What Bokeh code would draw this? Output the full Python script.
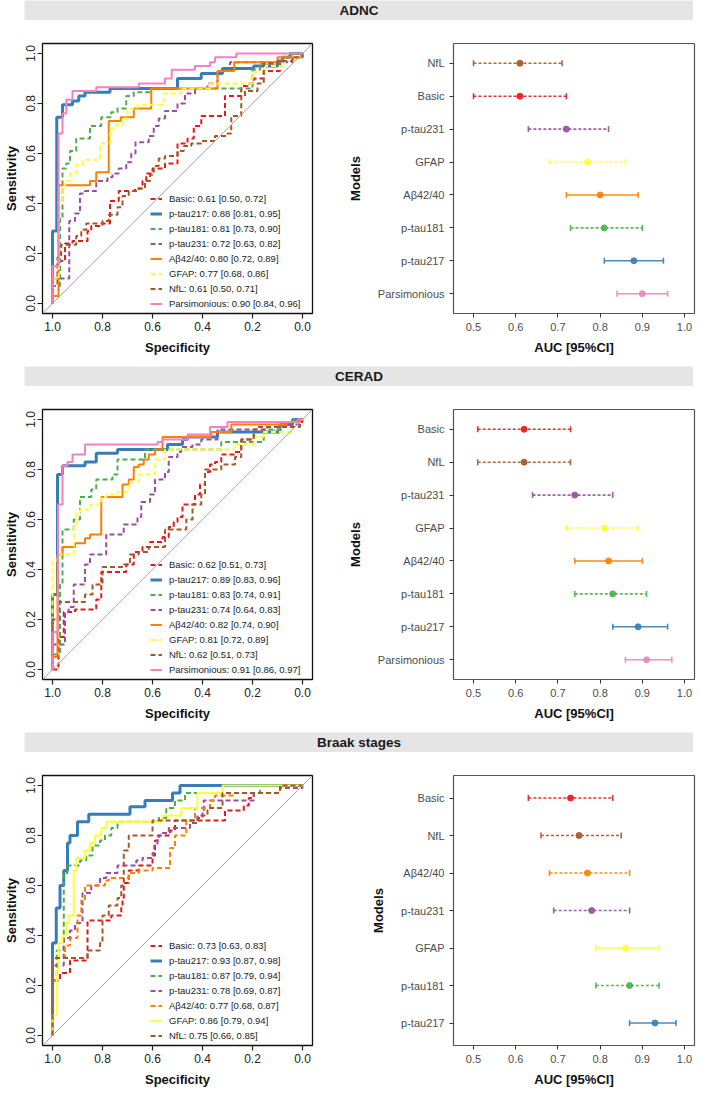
from math import pi
from bokeh.plotting import figure
from bokeh.layouts import column, row
from bokeh.models import (Range1d, FactorRange, FixedTicker, PrintfTickFormatter,
                          Legend, LegendItem, Slope)
from bokeh.core.properties import value
from bokeh.embed import file_html
from bokeh.resources import INLINE

FONT = "Liberation Sans"

# ---------------- data ----------------
MODELS = ["Basic", "p-tau217", "p-tau181", "p-tau231", "Aβ42/40", "GFAP", "NfL", "Parsimonious"]
COLORS = ["#E41A1C", "#377EB8", "#4DAF4A", "#984EA3", "#FF7F00", "#FFFF33", "#A65628", "#F781BF"]

# AUC [95% CI] (legend order)
ADNC_AUC = [0.61, 0.88, 0.81, 0.72, 0.80, 0.77, 0.61, 0.90]
ADNC_LO = [0.50, 0.81, 0.73, 0.63, 0.72, 0.68, 0.50, 0.84]
ADNC_HI = [0.72, 0.95, 0.90, 0.82, 0.89, 0.86, 0.71, 0.96]
ADNC_FOREST_ORDER = ["NfL", "Basic", "p-tau231", "GFAP", "Aβ42/40", "p-tau181", "p-tau217", "Parsimonious"]

CERAD_AUC = [0.62, 0.89, 0.83, 0.74, 0.82, 0.81, 0.62, 0.91]
CERAD_LO = [0.51, 0.83, 0.74, 0.64, 0.74, 0.72, 0.51, 0.86]
CERAD_HI = [0.73, 0.96, 0.91, 0.83, 0.90, 0.89, 0.73, 0.97]
CERAD_FOREST_ORDER = ["Basic", "NfL", "p-tau231", "GFAP", "Aβ42/40", "p-tau181", "p-tau217", "Parsimonious"]

BRAAK_MODELS = ["Basic", "p-tau217", "p-tau181", "p-tau231", "Aβ42/40", "GFAP", "NfL"]
BRAAK_AUC = [0.73, 0.93, 0.87, 0.78, 0.77, 0.86, 0.75]
BRAAK_LO = [0.63, 0.87, 0.79, 0.69, 0.68, 0.79, 0.66]
BRAAK_HI = [0.83, 0.98, 0.94, 0.87, 0.87, 0.94, 0.85]
BRAAK_FOREST_ORDER = ["Basic", "NfL", "Aβ42/40", "p-tau231", "GFAP", "p-tau181", "p-tau217"]

# ROC step corners (specificity, sensitivity)
ADNC_BASIC = [(1, 0), (1, 0.08), (0.98, 0.17), (0.95, 0.24), (0.92, 0.25), (0.86, 0.29), (0.845, 0.31),
              (0.80, 0.32), (0.77, 0.41), (0.735, 0.45), (0.67, 0.46), (0.64, 0.49), (0.625, 0.52),
              (0.60, 0.54), (0.55, 0.56), (0.50, 0.64), (0.46, 0.66), (0.435, 0.71), (0.405, 0.75),
              (0.31, 0.83), (0.245, 0.87), (0.22, 0.88), (0.195, 0.90), (0.155, 0.93), (0.09, 0.97),
              (0.04, 0.985), (0, 1.0)]
ADNC_PT217 = [(1, 0), (1, 0.29), (0.983, 0.745), (0.96, 0.795), (0.92, 0.81), (0.895, 0.83), (0.87, 0.845),
              (0.77, 0.86), (0.50, 0.90), (0.405, 0.92), (0.32, 0.94), (0.195, 0.95), (0.10, 0.97),
              (0.08, 0.985), (0.05, 1.0), (0, 1.0)]
ADNC_PT181 = [(1, 0), (1, 0.07), (0.97, 0.34), (0.96, 0.54), (0.945, 0.56), (0.93, 0.61), (0.905, 0.66),
              (0.85, 0.71), (0.805, 0.745), (0.765, 0.765), (0.74, 0.78), (0.705, 0.83), (0.675, 0.845),
              (0.61, 0.86), (0.20, 0.935), (0.17, 0.96), (0.08, 0.985), (0.04, 1.0), (0, 1.0)]
ADNC_PT231 = [(1, 0), (1, 0.10), (0.933, 0.33), (0.91, 0.36), (0.89, 0.44), (0.87, 0.45), (0.825, 0.49),
              (0.78, 0.505), (0.76, 0.52), (0.735, 0.54), (0.705, 0.565), (0.685, 0.60), (0.668, 0.645),
              (0.615, 0.67), (0.595, 0.71), (0.575, 0.74), (0.55, 0.77), (0.50, 0.80), (0.47, 0.84),
              (0.43, 0.86), (0.38, 0.88), (0.34, 0.93), (0.29, 0.965), (0.04, 0.985), (0, 1.0)]
ADNC_ABETA = [(1, 0), (1, 0.03), (0.976, 0.473), (0.85, 0.49), (0.825, 0.525), (0.775, 0.73), (0.727, 0.745),
              (0.675, 0.78), (0.605, 0.86), (0.34, 0.93), (0.273, 0.965), (0.10, 0.985), (0, 1.0)]
ADNC_GFAP = [(1, 0), (1, 0.10), (0.975, 0.41), (0.96, 0.47), (0.95, 0.49), (0.93, 0.52), (0.905, 0.555),
             (0.88, 0.575), (0.81, 0.64), (0.77, 0.70), (0.745, 0.715), (0.72, 0.74), (0.70, 0.78),
             (0.66, 0.795), (0.555, 0.84), (0.485, 0.86), (0.37, 0.88), (0.20, 0.925), (0.15, 0.95),
             (0.07, 0.97), (0.03, 0.985), (0, 1.0)]
ADNC_NFL = [(1, 0), (1, 0.15), (0.98, 0.185), (0.965, 0.235), (0.905, 0.27), (0.885, 0.295), (0.865, 0.32),
            (0.80, 0.33), (0.775, 0.355), (0.74, 0.385), (0.72, 0.43), (0.695, 0.45), (0.655, 0.46),
            (0.63, 0.49), (0.61, 0.515), (0.595, 0.55), (0.575, 0.58), (0.55, 0.59), (0.50, 0.61),
            (0.475, 0.63), (0.445, 0.64), (0.405, 0.65), (0.35, 0.67), (0.30, 0.68), (0.285, 0.75),
            (0.245, 0.83), (0.23, 0.85), (0.18, 0.88), (0.155, 0.96), (0.10, 0.97), (0.04, 0.985), (0, 1.0)]
ADNC_PARS = [(1, 0), (1, 0.15), (0.976, 0.68), (0.96, 0.76), (0.945, 0.815), (0.92, 0.85), (0.825, 0.865),
             (0.655, 0.88), (0.55, 0.90), (0.523, 0.935), (0.43, 0.95), (0.37, 0.965), (0.35, 0.985),
             (0.265, 1.0), (0, 1.0)]

CERAD_BASIC = [(1, 0), (0.976, 0.13), (0.955, 0.23), (0.91, 0.24), (0.825, 0.28), (0.805, 0.39), (0.705, 0.42),
               (0.675, 0.47), (0.64, 0.49), (0.61, 0.51), (0.56, 0.53), (0.535, 0.57), (0.515, 0.59),
               (0.50, 0.61), (0.48, 0.66), (0.43, 0.70), (0.41, 0.74), (0.39, 0.79), (0.37, 0.82),
               (0.35, 0.83), (0.325, 0.86), (0.27, 0.87), (0.245, 0.92), (0.195, 0.95), (0.09, 0.97),
               (0.04, 0.99), (0, 1.0)]
CERAD_PT217 = [(1, 0), (1, 0.30), (0.98, 0.78), (0.96, 0.815), (0.87, 0.83), (0.825, 0.865), (0.74, 0.88),
               (0.54, 0.90), (0.48, 0.92), (0.46, 0.93), (0.34, 0.95), (0.09, 0.98), (0.04, 1.0), (0, 1.0)]
CERAD_PT181 = [(1, 0), (1, 0.06), (0.97, 0.34), (0.96, 0.56), (0.915, 0.60), (0.89, 0.69), (0.845, 0.72),
               (0.825, 0.76), (0.76, 0.78), (0.74, 0.84), (0.63, 0.88), (0.325, 0.91), (0.155, 0.96),
               (0.09, 0.98), (0.04, 1.0), (0, 1.0)]
CERAD_PT231 = [(1, 0), (1, 0.10), (0.95, 0.23), (0.935, 0.25), (0.915, 0.34), (0.87, 0.42), (0.85, 0.46),
               (0.785, 0.54), (0.715, 0.58), (0.66, 0.61), (0.645, 0.67), (0.61, 0.70), (0.59, 0.76),
               (0.55, 0.79), (0.535, 0.85), (0.50, 0.87), (0.485, 0.89), (0.44, 0.90), (0.405, 0.92),
               (0.34, 0.96), (0.18, 0.97), (0.06, 0.98), (0.01, 1.0), (0, 1.0)]
CERAD_ABETA = [(1, 0), (1, 0.05), (0.98, 0.46), (0.96, 0.49), (0.91, 0.505), (0.87, 0.525), (0.85, 0.54),
               (0.805, 0.69), (0.72, 0.74), (0.695, 0.76), (0.675, 0.81), (0.655, 0.82), (0.635, 0.84),
               (0.615, 0.86), (0.59, 0.88), (0.56, 0.93), (0.365, 0.95), (0.285, 0.98), (0.063, 0.99),
               (0.01, 1.0), (0, 1.0)]
CERAD_GFAP = [(1, 0), (1, 0.43), (0.98, 0.46), (0.915, 0.57), (0.905, 0.63), (0.89, 0.64), (0.85, 0.66),
              (0.805, 0.69), (0.785, 0.70), (0.74, 0.71), (0.695, 0.75), (0.655, 0.78), (0.59, 0.84),
              (0.55, 0.88), (0.275, 0.90), (0.195, 0.93), (0.155, 0.95), (0.04, 0.97), (0.01, 1.0), (0, 1.0)]
CERAD_NFL = [(1, 0), (1, 0.20), (0.975, 0.27), (0.87, 0.30), (0.84, 0.34), (0.80, 0.41), (0.715, 0.42),
             (0.69, 0.46), (0.655, 0.47), (0.615, 0.49), (0.55, 0.56), (0.465, 0.60), (0.44, 0.66),
             (0.405, 0.70), (0.39, 0.80), (0.325, 0.82), (0.27, 0.85), (0.245, 0.92), (0.195, 0.96),
             (0.14, 0.97), (0.01, 1.0), (0, 1.0)]
CERAD_PARS = [(1, 0), (1, 0.15), (0.978, 0.66), (0.96, 0.815), (0.94, 0.83), (0.92, 0.86), (0.87, 0.90),
              (0.58, 0.91), (0.56, 0.92), (0.46, 0.94), (0.37, 0.97), (0.30, 0.99), (0.02, 1.0), (0, 1.0)]

BRAAK_BASIC = [(1, 0), (1, 0.22), (0.97, 0.25), (0.93, 0.30), (0.86, 0.46), (0.765, 0.48), (0.725, 0.52),
               (0.72, 0.55), (0.715, 0.61), (0.695, 0.66), (0.655, 0.68), (0.60, 0.72), (0.59, 0.78),
               (0.575, 0.80), (0.53, 0.82), (0.51, 0.86), (0.31, 0.90), (0.235, 0.92), (0.215, 0.95),
               (0.195, 0.97), (0.09, 1.0), (0, 1.0)]
BRAAK_PT217 = [(1, 0), (1, 0.37), (0.985, 0.51), (0.97, 0.60), (0.955, 0.66), (0.94, 0.77), (0.93, 0.80),
               (0.90, 0.855), (0.855, 0.885), (0.69, 0.915), (0.63, 0.94), (0.52, 0.97), (0.49, 1.0), (0, 1.0)]
BRAAK_PT181 = [(1, 0), (1, 0.22), (0.983, 0.34), (0.955, 0.65), (0.94, 0.68), (0.89, 0.70), (0.865, 0.72),
               (0.84, 0.76), (0.81, 0.78), (0.79, 0.80), (0.765, 0.83), (0.74, 0.855), (0.575, 0.87),
               (0.545, 0.91), (0.51, 0.94), (0.47, 0.97), (0.17, 1.0), (0, 1.0)]
BRAAK_PT231 = [(1, 0), (1, 0.28), (0.955, 0.39), (0.93, 0.42), (0.91, 0.45), (0.88, 0.57), (0.845, 0.60),
               (0.81, 0.63), (0.785, 0.65), (0.74, 0.68), (0.665, 0.70), (0.64, 0.71), (0.60, 0.73),
               (0.593, 0.76), (0.58, 0.80), (0.56, 0.81), (0.535, 0.83), (0.45, 0.85), (0.42, 0.88),
               (0.40, 0.90), (0.395, 0.94), (0.195, 0.97), (0.09, 0.99), (0, 1.0)]
BRAAK_ABETA = [(1, 0), (1, 0.31), (0.95, 0.36), (0.93, 0.39), (0.90, 0.48), (0.885, 0.54), (0.87, 0.60),
               (0.79, 0.62), (0.775, 0.63), (0.695, 0.65), (0.655, 0.66), (0.60, 0.67), (0.53, 0.75),
               (0.51, 0.80), (0.465, 0.86), (0.43, 0.91), (0.37, 0.94), (0.35, 0.96), (0.275, 0.97),
               (0.09, 1.0), (0, 1.0)]
BRAAK_GFAP = [(1, 0), (1, 0.08), (0.983, 0.26), (0.975, 0.37), (0.96, 0.40), (0.945, 0.45), (0.935, 0.48),
              (0.915, 0.66), (0.905, 0.71), (0.87, 0.74), (0.85, 0.77), (0.83, 0.80), (0.805, 0.83),
              (0.785, 0.855), (0.56, 0.88), (0.485, 0.91), (0.42, 0.97), (0.32, 1.0), (0, 1.0)]
BRAAK_NFL = [(1, 0), (1, 0.31), (0.86, 0.34), (0.81, 0.37), (0.80, 0.48), (0.775, 0.52), (0.74, 0.55),
             (0.725, 0.60), (0.715, 0.74), (0.695, 0.80), (0.60, 0.86), (0.42, 0.87), (0.40, 0.88),
             (0.38, 0.91), (0.32, 0.97), (0.09, 1.0), (0, 1.0)]

# ---------------- styling helpers ----------------
COLOR_OF = dict(zip(MODELS, COLORS))
FRAME = 270


def header(title):
    p = figure(frame_width=669, frame_height=20, min_border_left=24, min_border_right=0,
               min_border_top=0, min_border_bottom=0, x_range=Range1d(0, 1), y_range=Range1d(0, 1),
               x_axis_location=None, y_axis_location=None, output_backend="svg",
               toolbar_location=None, tools="")
    p.background_fill_color = "#E5E5E5"
    p.border_fill_color = "white"
    p.outline_line_color = None
    p.grid.visible = False
    p.text(x=[0.5], y=[0.5], text=[title], text_align="center", text_baseline="middle",
           text_font=value(FONT), text_font_style="bold", text_font_size="13.5px", text_color="#1A1A1A")
    return p


def roc_plot(models, curves, auc, lo, hi, solid, bottom):
    p = figure(frame_width=FRAME, frame_height=FRAME, min_border_left=39, min_border_right=11,
               min_border_top=23, min_border_bottom=bottom,
               x_range=Range1d(1.04, -0.04), y_range=Range1d(-0.04, 1.04),
               output_backend="svg", toolbar_location=None, tools="")
    p.grid.visible = False
    p.outline_line_color = "#111111"
    p.outline_line_width = 1.3
    p.border_fill_color = "white"
    p.add_layout(Slope(gradient=-1, y_intercept=1, line_color="#A8A8A8", line_width=1))
    items = []
    for m, pts, a, l, h in zip(models, curves, auc, lo, hi):
        xs = [q[0] for q in pts]
        ys = [q[1] for q in pts]
        r = p.step(xs, ys, mode="after", line_color=COLOR_OF[m],
                   line_width=3 if m == "p-tau217" else 2,
                   line_dash="solid" if m in solid else "5 3")
        items.append(LegendItem(label=value(f"{m}: {a:.2f} [{l:.2f}, {h:.2f}]"), renderers=[r]))
    leg = Legend(items=items, location=(108, 2), glyph_width=12, glyph_height=15, label_height=15,
                 spacing=0, padding=3, margin=0, label_standoff=7,
                 label_text_font=FONT, label_text_font_size="9.5px", label_text_color="#222222",
                 background_fill_alpha=0, border_line_color=None)
    p.add_layout(leg)
    for ax in (p.xaxis, p.yaxis):
        ax.ticker = FixedTicker(ticks=[0.0, 0.2, 0.4, 0.6, 0.8, 1.0])
        ax.formatter = PrintfTickFormatter(format="%.1f")
        ax.axis_line_color = None
        ax.major_tick_out = 5
        ax.major_tick_in = 0
        ax.minor_tick_out = 0
        ax.minor_tick_in = 0
        ax.major_tick_line_color = "#222222"
        ax.major_tick_line_width = 1.2
        ax.major_label_text_font = FONT
        ax.major_label_text_font_size = "12px"
        ax.major_label_text_color = "#222222"
        ax.major_label_standoff = 3
        ax.axis_label_text_font = FONT
        ax.axis_label_text_font_style = "bold"
        ax.axis_label_text_font_size = "13px"
        ax.axis_label_text_color = "#111111"
        ax.axis_label_standoff = 6
    p.xaxis.axis_label = "Specificity"
    p.yaxis.axis_label = "Sensitivity"
    p.yaxis.major_label_orientation = "vertical"
    p.yaxis.axis_label_standoff = 4
    return p


def forest_plot(models, auc, lo, hi, order, solid, bottom):
    p = figure(frame_width=241, frame_height=FRAME, min_border_left=130, min_border_right=2,
               min_border_top=23, min_border_bottom=bottom,
               x_range=Range1d(0.4526, 1.0237),
               y_range=FactorRange(factors=list(reversed(order)), range_padding=0.1,
                                   range_padding_units="absolute"),
               output_backend="svg", toolbar_location=None, tools="")
    p.grid.visible = False
    p.outline_line_color = "#555555"
    p.outline_line_width = 1.2
    p.border_fill_color = "white"
    for m, a, l, h in zip(models, auc, lo, hi):
        c = COLOR_OF[m]
        dash = "solid" if m in solid else "3 2"
        p.segment(x0=[l], y0=[m], x1=[h], y1=[m], line_color=c, line_width=1.6, line_dash=dash, line_alpha=0.9)
        p.scatter(x=[l, h], y=[m, m], marker="dash", angle=pi / 2, size=6, line_color=c,
                  line_width=1.6, line_alpha=0.9)
        p.scatter(x=[a], y=[m], marker="circle", size=6, fill_color=c, line_color=c, alpha=0.9)
    p.xaxis.ticker = FixedTicker(ticks=[0.5, 0.6, 0.7, 0.8, 0.9, 1.0])
    p.xaxis.formatter = PrintfTickFormatter(format="%.1f")
    for ax in (p.xaxis, p.yaxis):
        ax.axis_line_color = None
        ax.major_tick_out = 4
        ax.major_tick_in = 0
        ax.minor_tick_out = 0
        ax.minor_tick_in = 0
        ax.major_tick_line_color = "#333333"
        ax.major_label_text_font = FONT
        ax.major_label_text_font_size = "11px"
        ax.major_label_text_color = "#4D4D4D"
        ax.major_label_standoff = 5
        ax.axis_label_text_font = FONT
        ax.axis_label_text_font_style = "bold"
        ax.axis_label_text_font_size = "13px"
        ax.axis_label_text_color = "#111111"
        ax.axis_label_standoff = 6
    p.xaxis.axis_label = "AUC [95%CI]"
    p.yaxis.axis_label = "Models"
    p.yaxis.axis_label_standoff = 12
    return p


adnc_curves = [ADNC_BASIC, ADNC_PT217, ADNC_PT181, ADNC_PT231, ADNC_ABETA, ADNC_GFAP, ADNC_NFL, ADNC_PARS]
cerad_curves = [CERAD_BASIC, CERAD_PT217, CERAD_PT181, CERAD_PT231, CERAD_ABETA, CERAD_GFAP, CERAD_NFL, CERAD_PARS]
braak_curves = [BRAAK_BASIC, BRAAK_PT217, BRAAK_PT181, BRAAK_PT231, BRAAK_ABETA, BRAAK_GFAP, BRAAK_NFL]

solid_a = {"p-tau217", "Aβ42/40", "Parsimonious"}
solid_b = {"p-tau217", "GFAP"}

layout = column(
    header("ADNC"),
    row(roc_plot(MODELS, adnc_curves, ADNC_AUC, ADNC_LO, ADNC_HI, solid_a, 53),
        forest_plot(MODELS, ADNC_AUC, ADNC_LO, ADNC_HI, ADNC_FOREST_ORDER, solid_a, 53)),
    header("CERAD"),
    row(roc_plot(MODELS, cerad_curves, CERAD_AUC, CERAD_LO, CERAD_HI, solid_a, 53),
        forest_plot(MODELS, CERAD_AUC, CERAD_LO, CERAD_HI, CERAD_FOREST_ORDER, solid_a, 53)),
    header("Braak stages"),
    row(roc_plot(BRAAK_MODELS, braak_curves, BRAAK_AUC, BRAAK_LO, BRAAK_HI, solid_b, 45),
        forest_plot(BRAAK_MODELS, BRAAK_AUC, BRAAK_LO, BRAAK_HI, BRAAK_FOREST_ORDER, solid_b, 45)),
    spacing=0,
)

open("out.html", "w").write(file_html(layout, INLINE))
